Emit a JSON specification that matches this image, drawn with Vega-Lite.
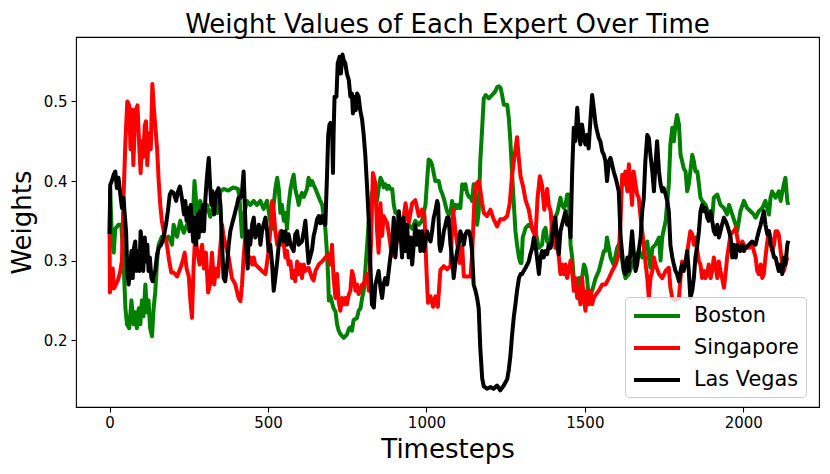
{
  "$schema": "https://vega.github.io/schema/vega-lite/v6.json",
  "width": 743,
  "height": 370,
  "autosize": {"type": "none"},
  "padding": {"left": 76, "top": 37, "right": 11, "bottom": 67},
  "title": {"text": "Weight Values of Each Expert Over Time", "fontSize": 26, "fontWeight": "normal", "color": "black", "baseline": "alphabetic", "offset": 5, "dy": 27, "frame": "group"},
  "encoding": {
    "x": {"field": "t", "type": "quantitative", "title": "Timesteps",
          "scale": {"domain": [-106, 2239], "nice": false, "zero": false},
          "axis": {"values": [0, 500, 1000, 1500, 2000], "format": "d", "labelFlush": false, "titleBaseline": "alphabetic", "titleY": 50}},
    "y": {"field": "w", "type": "quantitative", "title": "Weights",
          "scale": {"domain": [0.116, 0.581], "nice": false, "zero": false},
          "axis": {"values": [0.2, 0.3, 0.4, 0.5], "format": ".1f", "labelPadding": 4, "titleBaseline": "alphabetic", "titleX": -46, "titleY": 185, "titleAngle": -90}}
  },
  "layer": [
    {
      "data": {"values": [
        {"t":0,"w":0.333},{"t":2,"w":0.39},{"t":7,"w":0.33},{"t":13,"w":0.31},{"t":18,"w":0.34},{"t":28,"w":0.345},{"t":37,"w":0.345},{"t":44,"w":0.30},{"t":50,"w":0.24},{"t":55,"w":0.22},{"t":62,"w":0.215},{"t":69,"w":0.25},{"t":76,"w":0.22},{"t":81,"w":0.235},{"t":86,"w":0.215},{"t":92,"w":0.24},{"t":97,"w":0.22},{"t":102,"w":0.25},{"t":107,"w":0.23},{"t":113,"w":0.27},{"t":118,"w":0.235},{"t":123,"w":0.25},{"t":128,"w":0.215},{"t":134,"w":0.205},{"t":139,"w":0.24},{"t":144,"w":0.26},{"t":150,"w":0.30},{"t":155,"w":0.32},{"t":165,"w":0.33},{"t":176,"w":0.325},{"t":186,"w":0.33},{"t":197,"w":0.32},{"t":202,"w":0.345},{"t":213,"w":0.33},{"t":223,"w":0.35},{"t":234,"w":0.335},{"t":244,"w":0.345},{"t":255,"w":0.35},{"t":262,"w":0.35},{"t":268,"w":0.40},{"t":276,"w":0.36},{"t":286,"w":0.375},{"t":297,"w":0.36},{"t":307,"w":0.37},{"t":318,"w":0.355},{"t":328,"w":0.37},{"t":340,"w":0.36},{"t":345,"w":0.375},{"t":350,"w":0.387},{"t":360,"w":0.39},{"t":375,"w":0.388},{"t":390,"w":0.392},{"t":405,"w":0.39},{"t":410,"w":0.379},{"t":418,"w":0.33},{"t":425,"w":0.36},{"t":434,"w":0.375},{"t":444,"w":0.37},{"t":455,"w":0.375},{"t":465,"w":0.37},{"t":476,"w":0.375},{"t":486,"w":0.365},{"t":497,"w":0.375},{"t":507,"w":0.35},{"t":513,"w":0.34},{"t":518,"w":0.37},{"t":523,"w":0.39},{"t":529,"w":0.404},{"t":534,"w":0.39},{"t":539,"w":0.36},{"t":544,"w":0.37},{"t":550,"w":0.35},{"t":555,"w":0.36},{"t":560,"w":0.34},{"t":565,"w":0.37},{"t":571,"w":0.39},{"t":576,"w":0.40},{"t":581,"w":0.408},{"t":586,"w":0.39},{"t":592,"w":0.38},{"t":597,"w":0.37},{"t":602,"w":0.38},{"t":607,"w":0.385},{"t":613,"w":0.38},{"t":618,"w":0.385},{"t":623,"w":0.39},{"t":628,"w":0.404},{"t":634,"w":0.395},{"t":639,"w":0.40},{"t":644,"w":0.395},{"t":650,"w":0.39},{"t":655,"w":0.385},{"t":660,"w":0.38},{"t":665,"w":0.375},{"t":671,"w":0.37},{"t":676,"w":0.355},{"t":681,"w":0.34},{"t":686,"w":0.31},{"t":690,"w":0.278},{"t":692,"w":0.25},{"t":697,"w":0.255},{"t":707,"w":0.24},{"t":713,"w":0.236},{"t":718,"w":0.22},{"t":723,"w":0.212},{"t":728,"w":0.208},{"t":734,"w":0.205},{"t":739,"w":0.203},{"t":744,"w":0.205},{"t":749,"w":0.207},{"t":755,"w":0.214},{"t":760,"w":0.216},{"t":765,"w":0.212},{"t":770,"w":0.225},{"t":781,"w":0.228},{"t":786,"w":0.237},{"t":792,"w":0.24},{"t":797,"w":0.253},{"t":802,"w":0.262},{"t":807,"w":0.287},{"t":813,"w":0.32},{"t":818,"w":0.35},{"t":823,"w":0.354},{"t":828,"w":0.385},{"t":834,"w":0.39},{"t":839,"w":0.385},{"t":844,"w":0.375},{"t":849,"w":0.39},{"t":855,"w":0.404},{"t":860,"w":0.40},{"t":865,"w":0.392},{"t":870,"w":0.396},{"t":876,"w":0.39},{"t":881,"w":0.394},{"t":886,"w":0.39},{"t":892,"w":0.39},{"t":897,"w":0.37},{"t":902,"w":0.36},{"t":907,"w":0.36},{"t":913,"w":0.355},{"t":918,"w":0.352},{"t":923,"w":0.345},{"t":928,"w":0.35},{"t":934,"w":0.34},{"t":944,"w":0.345},{"t":955,"w":0.34},{"t":965,"w":0.35},{"t":976,"w":0.345},{"t":986,"w":0.35},{"t":997,"w":0.37},{"t":1002,"w":0.40},{"t":1007,"w":0.427},{"t":1013,"w":0.425},{"t":1018,"w":0.42},{"t":1023,"w":0.41},{"t":1028,"w":0.40},{"t":1034,"w":0.40},{"t":1039,"w":0.40},{"t":1044,"w":0.39},{"t":1049,"w":0.385},{"t":1055,"w":0.378},{"t":1060,"w":0.37},{"t":1065,"w":0.362},{"t":1070,"w":0.358},{"t":1076,"w":0.36},{"t":1081,"w":0.375},{"t":1086,"w":0.362},{"t":1092,"w":0.37},{"t":1097,"w":0.366},{"t":1102,"w":0.37},{"t":1107,"w":0.366},{"t":1113,"w":0.396},{"t":1118,"w":0.39},{"t":1123,"w":0.396},{"t":1128,"w":0.385},{"t":1134,"w":0.38},{"t":1139,"w":0.38},{"t":1144,"w":0.375},{"t":1149,"w":0.396},{"t":1155,"w":0.38},{"t":1160,"w":0.345},{"t":1165,"w":0.362},{"t":1170,"w":0.425},{"t":1176,"w":0.467},{"t":1181,"w":0.504},{"t":1187,"w":0.508},{"t":1192,"w":0.506},{"t":1197,"w":0.504},{"t":1207,"w":0.508},{"t":1218,"w":0.513},{"t":1223,"w":0.518},{"t":1229,"w":0.519},{"t":1234,"w":0.517},{"t":1239,"w":0.508},{"t":1244,"w":0.496},{"t":1255,"w":0.496},{"t":1260,"w":0.479},{"t":1265,"w":0.45},{"t":1270,"w":0.412},{"t":1276,"w":0.37},{"t":1281,"w":0.337},{"t":1286,"w":0.32},{"t":1292,"w":0.304},{"t":1297,"w":0.297},{"t":1300,"w":0.297},{"t":1304,"w":0.329},{"t":1313,"w":0.341},{"t":1323,"w":0.345},{"t":1334,"w":0.341},{"t":1344,"w":0.337},{"t":1355,"w":0.316},{"t":1365,"w":0.32},{"t":1370,"w":0.337},{"t":1376,"w":0.341},{"t":1381,"w":0.324},{"t":1391,"w":0.32},{"t":1397,"w":0.35},{"t":1407,"w":0.355},{"t":1413,"w":0.36},{"t":1423,"w":0.379},{"t":1428,"w":0.37},{"t":1434,"w":0.366},{"t":1439,"w":0.37},{"t":1444,"w":0.383},{"t":1449,"w":0.383},{"t":1455,"w":0.32},{"t":1460,"w":0.304},{"t":1465,"w":0.278},{"t":1470,"w":0.27},{"t":1476,"w":0.266},{"t":1481,"w":0.278},{"t":1486,"w":0.262},{"t":1491,"w":0.278},{"t":1497,"w":0.295},{"t":1502,"w":0.29},{"t":1507,"w":0.278},{"t":1512,"w":0.253},{"t":1523,"w":0.262},{"t":1534,"w":0.278},{"t":1544,"w":0.287},{"t":1555,"w":0.304},{"t":1560,"w":0.312},{"t":1565,"w":0.312},{"t":1570,"w":0.329},{"t":1581,"w":0.304},{"t":1591,"w":0.295},{"t":1602,"w":0.316},{"t":1607,"w":0.32},{"t":1613,"w":0.312},{"t":1623,"w":0.287},{"t":1628,"w":0.278},{"t":1639,"w":0.283},{"t":1649,"w":0.295},{"t":1660,"w":0.304},{"t":1670,"w":0.312},{"t":1681,"w":0.304},{"t":1691,"w":0.32},{"t":1697,"w":0.324},{"t":1702,"w":0.304},{"t":1707,"w":0.291},{"t":1713,"w":0.316},{"t":1723,"w":0.32},{"t":1734,"w":0.329},{"t":1739,"w":0.30},{"t":1744,"w":0.329},{"t":1755,"w":0.35},{"t":1765,"w":0.396},{"t":1770,"w":0.446},{"t":1776,"w":0.467},{"t":1781,"w":0.45},{"t":1786,"w":0.471},{"t":1791,"w":0.483},{"t":1797,"w":0.471},{"t":1802,"w":0.433},{"t":1807,"w":0.425},{"t":1812,"w":0.416},{"t":1818,"w":0.412},{"t":1823,"w":0.387},{"t":1828,"w":0.396},{"t":1833,"w":0.412},{"t":1839,"w":0.433},{"t":1844,"w":0.425},{"t":1849,"w":0.412},{"t":1855,"w":0.412},{"t":1860,"w":0.396},{"t":1865,"w":0.379},{"t":1870,"w":0.375},{"t":1881,"w":0.37},{"t":1891,"w":0.358},{"t":1902,"w":0.354},{"t":1907,"w":0.379},{"t":1918,"w":0.383},{"t":1928,"w":0.37},{"t":1939,"w":0.366},{"t":1949,"w":0.358},{"t":1955,"w":0.37},{"t":1965,"w":0.358},{"t":1976,"w":0.345},{"t":1981,"w":0.337},{"t":1991,"w":0.362},{"t":2002,"w":0.375},{"t":2012,"w":0.366},{"t":2023,"w":0.362},{"t":2033,"w":0.358},{"t":2039,"w":0.354},{"t":2049,"w":0.362},{"t":2060,"w":0.366},{"t":2070,"w":0.375},{"t":2081,"w":0.358},{"t":2086,"w":0.379},{"t":2091,"w":0.387},{"t":2102,"w":0.379},{"t":2112,"w":0.387},{"t":2118,"w":0.375},{"t":2128,"w":0.396},{"t":2133,"w":0.404},{"t":2139,"w":0.375},{"t":2142,"w":0.37}
      ]},
      "mark": {"type": "line", "strokeWidth": 4, "strokeJoin": "round"},
      "encoding": {
        "color": {"datum": "Boston", "type": "nominal",
                  "scale": {"domain": ["Boston", "Singapore", "Las Vegas"], "range": ["#008000", "#ff0000", "#000000"]},
                  "legend": {"title": null, "orient": "none", "legendX": 549, "legendY": 260, "symbolType": "M-2.3,0H2.3", "symbolSize": 400, "symbolStrokeWidth": 4, "symbolOffset": 13, "labelFontSize": 20.8, "labelColor": "black", "labelOffset": 25, "rowPadding": 10, "padding": 7, "fillColor": "rgba(255,255,255,0.8)", "strokeColor": "#cccccc", "cornerRadius": 4}}
      }
    },
    {
      "data": {"values": [
        {"t":0,"w":0.333},{"t":1,"w":0.26},{"t":5,"w":0.27},{"t":10,"w":0.29},{"t":14,"w":0.265},{"t":20,"w":0.27},{"t":26,"w":0.275},{"t":33,"w":0.285},{"t":39,"w":0.30},{"t":44,"w":0.38},{"t":50,"w":0.45},{"t":56,"w":0.50},{"t":62,"w":0.495},{"t":66,"w":0.44},{"t":71,"w":0.49},{"t":75,"w":0.42},{"t":79,"w":0.465},{"t":83,"w":0.49},{"t":88,"w":0.495},{"t":94,"w":0.44},{"t":98,"w":0.41},{"t":102,"w":0.45},{"t":106,"w":0.43},{"t":111,"w":0.47},{"t":115,"w":0.475},{"t":119,"w":0.42},{"t":124,"w":0.46},{"t":130,"w":0.44},{"t":135,"w":0.522},{"t":140,"w":0.49},{"t":144,"w":0.47},{"t":150,"w":0.44},{"t":155,"w":0.40},{"t":160,"w":0.37},{"t":165,"w":0.35},{"t":174,"w":0.33},{"t":181,"w":0.32},{"t":188,"w":0.30},{"t":195,"w":0.285},{"t":202,"w":0.285},{"t":213,"w":0.28},{"t":223,"w":0.29},{"t":231,"w":0.30},{"t":237,"w":0.31},{"t":243,"w":0.29},{"t":250,"w":0.28},{"t":255,"w":0.25},{"t":260,"w":0.228},{"t":265,"w":0.29},{"t":270,"w":0.33},{"t":278,"w":0.31},{"t":284,"w":0.295},{"t":292,"w":0.32},{"t":298,"w":0.29},{"t":304,"w":0.31},{"t":311,"w":0.26},{"t":317,"w":0.27},{"t":323,"w":0.31},{"t":330,"w":0.27},{"t":336,"w":0.29},{"t":342,"w":0.28},{"t":350,"w":0.32},{"t":355,"w":0.345},{"t":360,"w":0.33},{"t":366,"w":0.32},{"t":376,"w":0.304},{"t":386,"w":0.278},{"t":397,"w":0.27},{"t":407,"w":0.253},{"t":413,"w":0.249},{"t":418,"w":0.27},{"t":423,"w":0.304},{"t":428,"w":0.329},{"t":434,"w":0.312},{"t":439,"w":0.299},{"t":444,"w":0.304},{"t":450,"w":0.295},{"t":455,"w":0.304},{"t":460,"w":0.295},{"t":471,"w":0.291},{"t":481,"w":0.287},{"t":492,"w":0.283},{"t":502,"w":0.312},{"t":507,"w":0.337},{"t":513,"w":0.375},{"t":518,"w":0.362},{"t":523,"w":0.337},{"t":529,"w":0.32},{"t":534,"w":0.324},{"t":539,"w":0.337},{"t":544,"w":0.32},{"t":550,"w":0.32},{"t":555,"w":0.304},{"t":560,"w":0.312},{"t":565,"w":0.295},{"t":571,"w":0.299},{"t":576,"w":0.278},{"t":581,"w":0.287},{"t":586,"w":0.274},{"t":592,"w":0.299},{"t":597,"w":0.283},{"t":602,"w":0.295},{"t":607,"w":0.278},{"t":613,"w":0.295},{"t":618,"w":0.287},{"t":628,"w":0.291},{"t":639,"w":0.278},{"t":644,"w":0.275},{"t":650,"w":0.287},{"t":660,"w":0.295},{"t":671,"w":0.299},{"t":681,"w":0.304},{"t":692,"w":0.308},{"t":697,"w":0.295},{"t":702,"w":0.32},{"t":707,"w":0.278},{"t":713,"w":0.253},{"t":718,"w":0.283},{"t":723,"w":0.249},{"t":728,"w":0.237},{"t":734,"w":0.253},{"t":739,"w":0.245},{"t":744,"w":0.253},{"t":749,"w":0.245},{"t":755,"w":0.257},{"t":760,"w":0.262},{"t":765,"w":0.287},{"t":770,"w":0.28},{"t":776,"w":0.262},{"t":781,"w":0.27},{"t":786,"w":0.258},{"t":791,"w":0.262},{"t":797,"w":0.27},{"t":802,"w":0.27},{"t":813,"w":0.283},{"t":818,"w":0.262},{"t":825,"w":0.32},{"t":831,"w":0.41},{"t":839,"w":0.397},{"t":844,"w":0.339},{"t":849,"w":0.31},{"t":855,"w":0.372},{"t":860,"w":0.331},{"t":865,"w":0.356},{"t":876,"w":0.347},{"t":881,"w":0.335},{"t":891,"w":0.306},{"t":902,"w":0.318},{"t":912,"w":0.331},{"t":923,"w":0.339},{"t":934,"w":0.372},{"t":944,"w":0.347},{"t":955,"w":0.372},{"t":965,"w":0.376},{"t":976,"w":0.356},{"t":986,"w":0.364},{"t":994,"w":0.356},{"t":1000,"w":0.289},{"t":1005,"w":0.247},{"t":1013,"w":0.255},{"t":1021,"w":0.242},{"t":1028,"w":0.255},{"t":1036,"w":0.242},{"t":1044,"w":0.288},{"t":1055,"w":0.293},{"t":1065,"w":0.289},{"t":1076,"w":0.293},{"t":1084,"w":0.364},{"t":1091,"w":0.339},{"t":1097,"w":0.322},{"t":1105,"w":0.297},{"t":1113,"w":0.318},{"t":1118,"w":0.28},{"t":1128,"w":0.28},{"t":1139,"w":0.28},{"t":1144,"w":0.306},{"t":1151,"w":0.372},{"t":1158,"w":0.397},{"t":1165,"w":0.40},{"t":1170,"w":0.389},{"t":1176,"w":0.372},{"t":1181,"w":0.36},{"t":1191,"w":0.356},{"t":1202,"w":0.364},{"t":1212,"w":0.352},{"t":1223,"w":0.343},{"t":1233,"w":0.352},{"t":1244,"w":0.352},{"t":1255,"w":0.356},{"t":1263,"w":0.372},{"t":1270,"w":0.406},{"t":1278,"w":0.431},{"t":1286,"w":0.455},{"t":1291,"w":0.431},{"t":1297,"w":0.406},{"t":1305,"w":0.393},{"t":1313,"w":0.376},{"t":1323,"w":0.364},{"t":1334,"w":0.339},{"t":1344,"w":0.33},{"t":1351,"w":0.38},{"t":1358,"w":0.406},{"t":1365,"w":0.394},{"t":1372,"w":0.364},{"t":1381,"w":0.39},{"t":1386,"w":0.37},{"t":1392,"w":0.362},{"t":1397,"w":0.337},{"t":1402,"w":0.329},{"t":1407,"w":0.316},{"t":1413,"w":0.32},{"t":1418,"w":0.304},{"t":1423,"w":0.283},{"t":1428,"w":0.295},{"t":1434,"w":0.283},{"t":1439,"w":0.295},{"t":1444,"w":0.278},{"t":1449,"w":0.287},{"t":1455,"w":0.30},{"t":1460,"w":0.287},{"t":1465,"w":0.262},{"t":1470,"w":0.278},{"t":1476,"w":0.253},{"t":1481,"w":0.266},{"t":1486,"w":0.245},{"t":1491,"w":0.278},{"t":1497,"w":0.253},{"t":1502,"w":0.237},{"t":1507,"w":0.262},{"t":1512,"w":0.245},{"t":1518,"w":0.262},{"t":1523,"w":0.245},{"t":1528,"w":0.253},{"t":1534,"w":0.257},{"t":1544,"w":0.262},{"t":1555,"w":0.27},{"t":1565,"w":0.27},{"t":1576,"w":0.278},{"t":1586,"w":0.287},{"t":1597,"w":0.295},{"t":1607,"w":0.308},{"t":1613,"w":0.354},{"t":1618,"w":0.408},{"t":1623,"w":0.396},{"t":1628,"w":0.412},{"t":1634,"w":0.387},{"t":1639,"w":0.421},{"t":1644,"w":0.396},{"t":1649,"w":0.37},{"t":1654,"w":0.412},{"t":1660,"w":0.396},{"t":1665,"w":0.383},{"t":1670,"w":0.379},{"t":1676,"w":0.354},{"t":1681,"w":0.337},{"t":1686,"w":0.32},{"t":1691,"w":0.299},{"t":1697,"w":0.278},{"t":1702,"w":0.253},{"t":1707,"w":0.278},{"t":1713,"w":0.287},{"t":1718,"w":0.304},{"t":1723,"w":0.295},{"t":1734,"w":0.283},{"t":1744,"w":0.278},{"t":1755,"w":0.287},{"t":1765,"w":0.291},{"t":1770,"w":0.266},{"t":1776,"w":0.253},{"t":1786,"w":0.25},{"t":1797,"w":0.253},{"t":1802,"w":0.278},{"t":1807,"w":0.299},{"t":1818,"w":0.295},{"t":1828,"w":0.324},{"t":1833,"w":0.337},{"t":1839,"w":0.333},{"t":1844,"w":0.32},{"t":1849,"w":0.329},{"t":1855,"w":0.312},{"t":1860,"w":0.299},{"t":1865,"w":0.295},{"t":1870,"w":0.278},{"t":1876,"w":0.287},{"t":1881,"w":0.278},{"t":1886,"w":0.283},{"t":1891,"w":0.295},{"t":1897,"w":0.278},{"t":1902,"w":0.287},{"t":1907,"w":0.304},{"t":1912,"w":0.295},{"t":1918,"w":0.278},{"t":1923,"w":0.299},{"t":1928,"w":0.287},{"t":1933,"w":0.278},{"t":1939,"w":0.266},{"t":1944,"w":0.283},{"t":1949,"w":0.304},{"t":1955,"w":0.32},{"t":1960,"w":0.333},{"t":1970,"w":0.337},{"t":1976,"w":0.341},{"t":1981,"w":0.329},{"t":1986,"w":0.32},{"t":1991,"w":0.316},{"t":1997,"w":0.324},{"t":2007,"w":0.316},{"t":2018,"w":0.316},{"t":2028,"w":0.32},{"t":2039,"w":0.304},{"t":2044,"w":0.287},{"t":2049,"w":0.283},{"t":2055,"w":0.295},{"t":2060,"w":0.278},{"t":2065,"w":0.283},{"t":2070,"w":0.304},{"t":2076,"w":0.324},{"t":2081,"w":0.337},{"t":2086,"w":0.329},{"t":2091,"w":0.312},{"t":2097,"w":0.32},{"t":2102,"w":0.337},{"t":2107,"w":0.337},{"t":2112,"w":0.333},{"t":2118,"w":0.312},{"t":2123,"w":0.295},{"t":2128,"w":0.287},{"t":2133,"w":0.295},{"t":2139,"w":0.304},{"t":2142,"w":0.304}
      ]},
      "mark": {"type": "line", "strokeWidth": 4, "strokeJoin": "round"},
      "encoding": {"color": {"datum": "Singapore", "type": "nominal"}}
    },
    {
      "data": {"values": [
        {"t":0,"w":0.333},{"t":2,"w":0.395},{"t":7,"w":0.40},{"t":13,"w":0.408},{"t":18,"w":0.412},{"t":23,"w":0.391},{"t":28,"w":0.404},{"t":34,"w":0.383},{"t":39,"w":0.366},{"t":44,"w":0.379},{"t":47,"w":0.362},{"t":52,"w":0.337},{"t":56,"w":0.287},{"t":60,"w":0.27},{"t":64,"w":0.287},{"t":69,"w":0.312},{"t":73,"w":0.278},{"t":77,"w":0.316},{"t":81,"w":0.324},{"t":85,"w":0.287},{"t":90,"w":0.312},{"t":94,"w":0.287},{"t":98,"w":0.337},{"t":102,"w":0.32},{"t":106,"w":0.287},{"t":111,"w":0.329},{"t":115,"w":0.299},{"t":119,"w":0.32},{"t":123,"w":0.287},{"t":127,"w":0.304},{"t":132,"w":0.278},{"t":136,"w":0.274},{"t":140,"w":0.283},{"t":144,"w":0.287},{"t":150,"w":0.308},{"t":155,"w":0.316},{"t":163,"w":0.32},{"t":170,"w":0.329},{"t":178,"w":0.345},{"t":184,"w":0.362},{"t":190,"w":0.383},{"t":195,"w":0.387},{"t":202,"w":0.385},{"t":210,"w":0.375},{"t":216,"w":0.387},{"t":222,"w":0.393},{"t":228,"w":0.379},{"t":235,"w":0.358},{"t":239,"w":0.375},{"t":243,"w":0.35},{"t":247,"w":0.366},{"t":252,"w":0.337},{"t":256,"w":0.37},{"t":260,"w":0.345},{"t":264,"w":0.324},{"t":268,"w":0.354},{"t":273,"w":0.32},{"t":277,"w":0.358},{"t":281,"w":0.329},{"t":285,"w":0.362},{"t":290,"w":0.337},{"t":294,"w":0.37},{"t":298,"w":0.337},{"t":302,"w":0.375},{"t":307,"w":0.404},{"t":313,"w":0.429},{"t":317,"w":0.396},{"t":321,"w":0.37},{"t":325,"w":0.387},{"t":330,"w":0.358},{"t":334,"w":0.379},{"t":339,"w":0.387},{"t":344,"w":0.391},{"t":350,"w":0.37},{"t":355,"w":0.32},{"t":360,"w":0.278},{"t":365,"w":0.274},{"t":371,"w":0.295},{"t":376,"w":0.32},{"t":381,"w":0.337},{"t":386,"w":0.345},{"t":392,"w":0.354},{"t":397,"w":0.362},{"t":402,"w":0.37},{"t":407,"w":0.379},{"t":413,"w":0.379},{"t":418,"w":0.387},{"t":423,"w":0.412},{"t":428,"w":0.354},{"t":432,"w":0.312},{"t":436,"w":0.29},{"t":439,"w":0.337},{"t":444,"w":0.32},{"t":450,"w":0.345},{"t":455,"w":0.354},{"t":460,"w":0.329},{"t":465,"w":0.337},{"t":471,"w":0.345},{"t":476,"w":0.32},{"t":481,"w":0.337},{"t":486,"w":0.345},{"t":492,"w":0.354},{"t":497,"w":0.337},{"t":502,"w":0.312},{"t":507,"w":0.32},{"t":513,"w":0.295},{"t":518,"w":0.262},{"t":523,"w":0.278},{"t":529,"w":0.299},{"t":534,"w":0.32},{"t":539,"w":0.329},{"t":544,"w":0.337},{"t":550,"w":0.324},{"t":555,"w":0.337},{"t":560,"w":0.32},{"t":565,"w":0.333},{"t":571,"w":0.32},{"t":576,"w":0.316},{"t":581,"w":0.312},{"t":586,"w":0.333},{"t":592,"w":0.337},{"t":597,"w":0.32},{"t":607,"w":0.324},{"t":613,"w":0.337},{"t":618,"w":0.35},{"t":623,"w":0.322},{"t":628,"w":0.297},{"t":634,"w":0.306},{"t":639,"w":0.314},{"t":644,"w":0.331},{"t":649,"w":0.339},{"t":655,"w":0.352},{"t":660,"w":0.356},{"t":665,"w":0.347},{"t":670,"w":0.356},{"t":676,"w":0.347},{"t":681,"w":0.345},{"t":686,"w":0.404},{"t":690,"w":0.458},{"t":694,"w":0.471},{"t":697,"w":0.473},{"t":702,"w":0.471},{"t":705,"w":0.41},{"t":707,"w":0.46},{"t":710,"w":0.506},{"t":716,"w":0.506},{"t":720,"w":0.548},{"t":726,"w":0.556},{"t":730,"w":0.535},{"t":735,"w":0.559},{"t":739,"w":0.552},{"t":744,"w":0.548},{"t":749,"w":0.535},{"t":755,"w":0.527},{"t":760,"w":0.506},{"t":765,"w":0.51},{"t":768,"w":0.485},{"t":772,"w":0.506},{"t":777,"w":0.489},{"t":781,"w":0.51},{"t":786,"w":0.506},{"t":791,"w":0.489},{"t":797,"w":0.477},{"t":802,"w":0.458},{"t":807,"w":0.433},{"t":813,"w":0.39},{"t":818,"w":0.35},{"t":823,"w":0.295},{"t":828,"w":0.245},{"t":834,"w":0.241},{"t":839,"w":0.27},{"t":844,"w":0.278},{"t":849,"w":0.287},{"t":855,"w":0.266},{"t":860,"w":0.253},{"t":865,"w":0.27},{"t":870,"w":0.278},{"t":876,"w":0.27},{"t":881,"w":0.287},{"t":886,"w":0.304},{"t":892,"w":0.32},{"t":897,"w":0.354},{"t":902,"w":0.304},{"t":907,"w":0.329},{"t":913,"w":0.362},{"t":918,"w":0.337},{"t":923,"w":0.304},{"t":928,"w":0.354},{"t":934,"w":0.312},{"t":939,"w":0.345},{"t":944,"w":0.304},{"t":950,"w":0.329},{"t":955,"w":0.295},{"t":960,"w":0.32},{"t":965,"w":0.345},{"t":970,"w":0.32},{"t":976,"w":0.337},{"t":981,"w":0.312},{"t":986,"w":0.337},{"t":992,"w":0.312},{"t":997,"w":0.324},{"t":1002,"w":0.337},{"t":1007,"w":0.329},{"t":1013,"w":0.324},{"t":1018,"w":0.337},{"t":1023,"w":0.354},{"t":1028,"w":0.362},{"t":1034,"w":0.375},{"t":1037,"w":0.37},{"t":1041,"w":0.32},{"t":1044,"w":0.312},{"t":1049,"w":0.32},{"t":1055,"w":0.337},{"t":1060,"w":0.345},{"t":1065,"w":0.354},{"t":1070,"w":0.354},{"t":1076,"w":0.32},{"t":1081,"w":0.304},{"t":1086,"w":0.278},{"t":1092,"w":0.299},{"t":1097,"w":0.312},{"t":1102,"w":0.32},{"t":1107,"w":0.337},{"t":1113,"w":0.329},{"t":1118,"w":0.32},{"t":1123,"w":0.333},{"t":1128,"w":0.337},{"t":1134,"w":0.337},{"t":1139,"w":0.329},{"t":1144,"w":0.312},{"t":1149,"w":0.27},{"t":1155,"w":0.262},{"t":1160,"w":0.253},{"t":1165,"w":0.24},{"t":1170,"w":0.19},{"t":1176,"w":0.152},{"t":1181,"w":0.142},{"t":1191,"w":0.139},{"t":1202,"w":0.141},{"t":1212,"w":0.139},{"t":1223,"w":0.143},{"t":1233,"w":0.137},{"t":1244,"w":0.143},{"t":1255,"w":0.151},{"t":1260,"w":0.163},{"t":1265,"w":0.18},{"t":1270,"w":0.205},{"t":1276,"w":0.23},{"t":1281,"w":0.245},{"t":1286,"w":0.262},{"t":1292,"w":0.278},{"t":1297,"w":0.283},{"t":1302,"w":0.283},{"t":1307,"w":0.287},{"t":1313,"w":0.291},{"t":1318,"w":0.295},{"t":1323,"w":0.299},{"t":1328,"w":0.308},{"t":1334,"w":0.316},{"t":1339,"w":0.329},{"t":1344,"w":0.32},{"t":1349,"w":0.304},{"t":1355,"w":0.283},{"t":1360,"w":0.304},{"t":1365,"w":0.312},{"t":1370,"w":0.304},{"t":1376,"w":0.312},{"t":1381,"w":0.308},{"t":1386,"w":0.32},{"t":1392,"w":0.316},{"t":1397,"w":0.329},{"t":1402,"w":0.345},{"t":1407,"w":0.354},{"t":1413,"w":0.32},{"t":1418,"w":0.308},{"t":1423,"w":0.337},{"t":1428,"w":0.345},{"t":1434,"w":0.354},{"t":1439,"w":0.362},{"t":1444,"w":0.345},{"t":1449,"w":0.354},{"t":1455,"w":0.329},{"t":1460,"w":0.412},{"t":1465,"w":0.467},{"t":1470,"w":0.45},{"t":1476,"w":0.492},{"t":1481,"w":0.462},{"t":1486,"w":0.446},{"t":1491,"w":0.471},{"t":1497,"w":0.454},{"t":1502,"w":0.446},{"t":1507,"w":0.458},{"t":1512,"w":0.441},{"t":1518,"w":0.479},{"t":1523,"w":0.508},{"t":1528,"w":0.492},{"t":1534,"w":0.471},{"t":1539,"w":0.462},{"t":1544,"w":0.454},{"t":1549,"w":0.45},{"t":1555,"w":0.437},{"t":1560,"w":0.433},{"t":1565,"w":0.425},{"t":1570,"w":0.40},{"t":1576,"w":0.425},{"t":1581,"w":0.429},{"t":1586,"w":0.421},{"t":1591,"w":0.412},{"t":1597,"w":0.404},{"t":1602,"w":0.396},{"t":1607,"w":0.387},{"t":1613,"w":0.329},{"t":1618,"w":0.308},{"t":1623,"w":0.287},{"t":1628,"w":0.283},{"t":1634,"w":0.304},{"t":1639,"w":0.287},{"t":1644,"w":0.312},{"t":1649,"w":0.337},{"t":1654,"w":0.312},{"t":1660,"w":0.287},{"t":1665,"w":0.295},{"t":1670,"w":0.312},{"t":1676,"w":0.329},{"t":1681,"w":0.362},{"t":1686,"w":0.379},{"t":1691,"w":0.425},{"t":1697,"w":0.458},{"t":1702,"w":0.454},{"t":1707,"w":0.433},{"t":1713,"w":0.412},{"t":1718,"w":0.387},{"t":1723,"w":0.421},{"t":1728,"w":0.45},{"t":1734,"w":0.412},{"t":1739,"w":0.396},{"t":1744,"w":0.387},{"t":1749,"w":0.391},{"t":1755,"w":0.383},{"t":1760,"w":0.375},{"t":1765,"w":0.362},{"t":1770,"w":0.32},{"t":1776,"w":0.304},{"t":1781,"w":0.295},{"t":1786,"w":0.287},{"t":1791,"w":0.283},{"t":1797,"w":0.274},{"t":1802,"w":0.287},{"t":1807,"w":0.295},{"t":1812,"w":0.287},{"t":1818,"w":0.299},{"t":1823,"w":0.312},{"t":1828,"w":0.287},{"t":1833,"w":0.253},{"t":1839,"w":0.262},{"t":1844,"w":0.278},{"t":1849,"w":0.304},{"t":1855,"w":0.32},{"t":1860,"w":0.337},{"t":1865,"w":0.362},{"t":1870,"w":0.37},{"t":1876,"w":0.362},{"t":1881,"w":0.366},{"t":1886,"w":0.354},{"t":1891,"w":0.35},{"t":1897,"w":0.362},{"t":1902,"w":0.35},{"t":1907,"w":0.337},{"t":1912,"w":0.333},{"t":1918,"w":0.345},{"t":1923,"w":0.329},{"t":1928,"w":0.337},{"t":1933,"w":0.345},{"t":1939,"w":0.354},{"t":1944,"w":0.35},{"t":1949,"w":0.345},{"t":1955,"w":0.337},{"t":1960,"w":0.329},{"t":1965,"w":0.304},{"t":1970,"w":0.32},{"t":1976,"w":0.304},{"t":1981,"w":0.32},{"t":1986,"w":0.316},{"t":1991,"w":0.312},{"t":1997,"w":0.32},{"t":2002,"w":0.312},{"t":2007,"w":0.316},{"t":2018,"w":0.32},{"t":2028,"w":0.324},{"t":2039,"w":0.32},{"t":2044,"w":0.329},{"t":2049,"w":0.337},{"t":2055,"w":0.345},{"t":2060,"w":0.354},{"t":2065,"w":0.362},{"t":2070,"w":0.345},{"t":2076,"w":0.333},{"t":2081,"w":0.337},{"t":2086,"w":0.32},{"t":2091,"w":0.316},{"t":2097,"w":0.304},{"t":2102,"w":0.304},{"t":2107,"w":0.295},{"t":2112,"w":0.287},{"t":2118,"w":0.295},{"t":2123,"w":0.283},{"t":2128,"w":0.304},{"t":2133,"w":0.295},{"t":2139,"w":0.32},{"t":2142,"w":0.325}
      ]},
      "mark": {"type": "line", "strokeWidth": 4, "strokeJoin": "round"},
      "encoding": {"color": {"datum": "Las Vegas", "type": "nominal"}}
    }
  ],
  "config": {
    "font": "DejaVu Sans",
    "view": {"stroke": "black", "strokeWidth": 1.1},
    "axis": {"grid": false, "domain": false, "tickColor": "black", "tickSize": 5, "tickWidth": 1.1, "labelFontSize": 15, "labelColor": "black", "labelPadding": 3, "titleFontSize": 26, "titleFontWeight": "normal", "titleColor": "black"},
    "legend": {"labelFont": "DejaVu Sans"}
  }
}
